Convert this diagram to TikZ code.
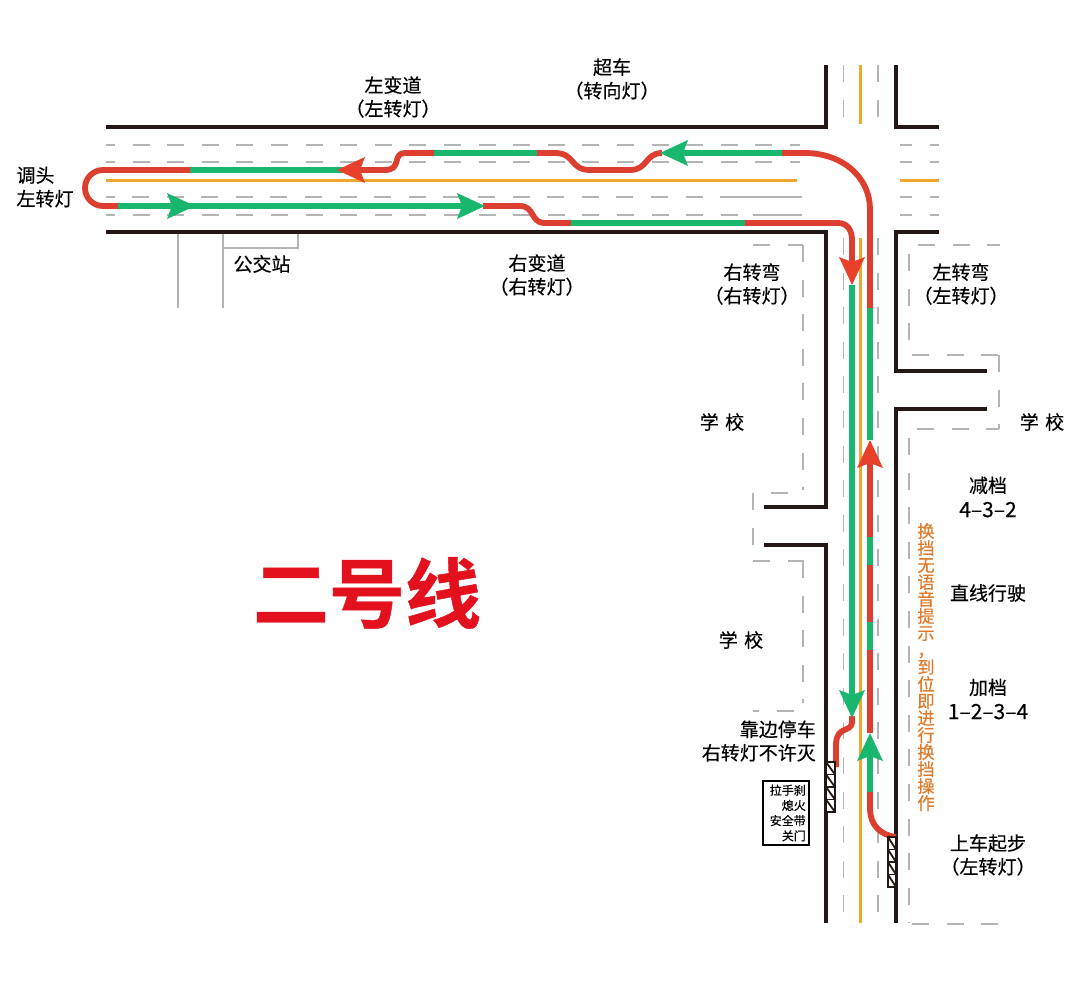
\documentclass[tikz,border=0pt]{standalone}
\usepackage{fontspec}
\setmainfont[FakeBold=0.35]{Noto Sans CJK SC}
\newfontfamily\cjkbold{Noto Sans CJK SC Bold}[FakeBold=0.6]
\newfontfamily\cjkvert[RawFeature=vert,FakeBold=0.6]{Noto Sans CJK SC}
\definecolor{rd}{HTML}{DC3F30}
\definecolor{rdh}{HTML}{E8402A}
\definecolor{grn}{HTML}{19B66E}
\definecolor{yel}{HTML}{EFA82E}
\definecolor{road}{HTML}{231815}
\definecolor{gr}{HTML}{B4B4B4}
\definecolor{org}{HTML}{DF7A2A}
\definecolor{ttl}{HTML}{E3101E}
\tikzset{
 edge/.style={draw=road,line width=3.6pt,line join=miter},
 lane/.style={draw=gr,line width=1.7pt,dash pattern=on 17pt off 17.6pt},
 plainlane/.style={draw=gr,line width=1.7pt},
 centre/.style={draw=yel,line width=3pt},
 rr/.style={draw=rd,line width=5.8pt,line join=round},
 gg/.style={draw=grn,line width=5.8pt},
 lab/.style={align=center,font=\fontsize{19}{23.5}\selectfont,text=black,inner sep=0pt},
 pics/head/.style={code={\fill[#1] (0,0)--(-28,13)--(-23,0)--(-28,-13)--cycle;}},
 stopmark/.style={draw=road,line width=1.4pt}
}
\begin{document}
\begin{tikzpicture}[x=1pt,y=-1pt]
\useasboundingbox (0,0) rectangle (1080,1007);
% lanes
\foreach \yy in {145,162,215}{\draw[lane,dash phase=8] (106,\yy)--(800,\yy);}
\draw[lane,dash phase=8] (106,197)--(116,197);
\draw[lane] (132,197)--(735,197);
\draw[plainlane] (735,197)--(802,197);
\draw[plainlane] (753,215)--(802,215);
\foreach \yy in {145,162,197,215}{
 \draw[plainlane] (900,\yy)--(912,\yy);
 \draw[plainlane] (930,\yy)--(939,\yy);}
\foreach \xx in {843.5,878}{
 \draw[lane] (\xx,65)--(\xx,118);
 \draw[lane] (\xx,238)--(\xx,923);}
% yellow
\draw[centre] (106,180)--(797,180);
\draw[centre] (900,180)--(939,180);
\draw[centre] (860,65)--(860,124);
\draw[centre] (860,238)--(860,923);
% kerbs
\draw[edge] (106,127)--(826,127)--(826,65);
\draw[edge] (896,65)--(896,127)--(939,127);
\draw[edge] (106,232)--(826,232)--(826,507)--(764,507);
\draw[edge] (764,545)--(826,545)--(826,923);
\draw[edge] (939,232)--(896,232)--(896,371)--(987,371);
\draw[edge] (987,409)--(896,409)--(896,923);
% bus stop
\draw[plainlane,line width=1.3pt] (178,234)--(178,308);
\draw[plainlane,line width=1.3pt] (223,234)--(223,308);
\draw[plainlane,line width=1.3pt] (223,248)--(298,248)--(298,234);
% verge dashes
\draw[lane] (753,245)--(803,245);
\draw[lane] (803,245)--(803,490);
\draw[lane] (788,493)--(771,493);
\draw[lane] (753,493)--(753,546);
\draw[lane] (753,561)--(804,561);
\draw[lane] (803,561)--(803,703);
\draw[lane] (794,711)--(753,711);
\draw[lane] (918,245)--(1000,245);
\draw[lane] (909,254)--(909,352);
\draw[lane] (912,355)--(999,355);
\draw[lane] (999,355)--(999,429);
\draw[lane] (917,429)--(999,429);
\draw[lane] (909,438)--(909,923);
\draw[lane] (912,924)--(999,924);
% route
\draw[rr] (896,837) .. controls (880,835) and (870,825) .. (870,808) -- (870,792);
\draw[gg] (870,792)--(870,745);
\draw[rr] (870,733)--(870,650);
\draw[gg] (870,650)--(870,622);
\draw[rr] (870,622)--(870,565);
\draw[gg] (870,565)--(870,537);
\draw[rr] (870,537)--(870,460);
\draw[gg] (870,440)--(870,308);
\draw[rr] (870,308)--(870,210) .. controls (870,175) and (840,153) .. (805,153) -- (782,153);
\draw[gg] (782,153)--(670,153);
\draw[rr] (662,153) .. controls (645,153) and (648,170) .. (630,170) -- (590,170) .. controls (570,170) and (575,153) .. (555,153) -- (537,153);
\draw[gg] (537,153)--(434,153);
\draw[rr] (434,153)--(405,153) .. controls (392,153) and (402,170) .. (385,170) -- (360,170);
\draw[gg] (345,170)--(190,170);
\draw[rr] (190,170)--(103,170) .. controls (93,170) and (85,178) .. (85,188) .. controls (85,198) and (93,206) .. (103,206) -- (118,206);
\draw[gg] (118,206)--(475,206);
\draw[rr] (483,206)--(520,206) .. controls (535,206) and (530,223) .. (545,223) -- (571,223);
\draw[gg] (571,223)--(745,223);
\draw[rr] (745,223)--(838,223) .. controls (848,223) and (852,231) .. (852,240) -- (852,265);
\draw[gg] (852,285)--(852,700);
\draw[rr] (852,716) -- (852,722) .. controls (852,733) and (836,725) .. (836,745) -- (836,767);
% heads
\pic[rotate=180] at (660,153) {head=grn};
\pic[rotate=180] at (337,170) {head=rdh};
\pic at (195,206) {head=grn};
\pic at (485,206) {head=grn};
\pic[rotate=-90] at (852,285) {head=rdh};
\pic[rotate=-90] at (852,718) {head=grn};
\pic[rotate=90] at (870,440) {head=rdh};
\pic[rotate=90] at (870,733) {head=grn};
% labels
\node[lab] (a1) at (393,97) {左变道\\（左转灯）};
\node[lab] (a2) at (612,79) {超车\\（转向灯）};
\node[lab,align=left] (a3) at (45,187) {调头\\左转灯};
\node[lab] (a4) at (262,264) {公交站};
\node[lab] (a5) at (537,275) {右变道\\（右转灯）};
\node[lab] (a6) at (752,284) {右转弯\\（右转灯）};
\node[lab] (a7) at (961,284) {左转弯\\（左转灯）};
\node[lab] (a8) at (722,422) {学\,\,校};
\node[lab] (a9) at (1042,422) {学\,\,校};
\node[lab] (a10) at (741,640) {学\,\,校};
\node[lab] (a11) at (988,497) {减档\\[1pt]{\fontsize{21}{23.5}\selectfont 4–3–2}};
\node[lab] (a12) at (988,593) {直线行驶};
\node[lab] (a13) at (988,699) {加档\\[1pt]{\fontsize{21}{23.5}\selectfont 1–2–3–4}};
\node[lab] (a14) at (988,855) {上车起步\\（左转灯）};
\node[lab,align=right,anchor=east] (a15) at (816,741) {靠边停车\\右转灯不许灭};
\node[draw=black,line width=1.2pt,minimum width=46pt,minimum height=64pt,inner sep=0pt] (b) at (786,813) {};
\node[align=right,anchor=east,inner sep=0pt,font=\fontsize{12}{15.2}\selectfont] (bt) at (806,813) {拉手刹\\熄火\\安全带\\关门};
\node[text=org,inner sep=0pt,align=center,font=\fontsize{17.3}{17}\selectfont\cjkvert] (v) at (926,667) {换\\挡\\无\\语\\音\\提\\示\\，\\到\\位\\即\\进\\行\\换\\挡\\操\\作};
\node[text=ttl,inner sep=0pt,font=\fontsize{76}{76}\selectfont\cjkbold] (t) at (367,593) {二号线};
% stop marks
\foreach \xa/\xb/\ya in {826/835/762,888/896/837}{
 \fill[white] (\xa,\ya) rectangle (\xb,\ya+50);
 \draw[stopmark] (\xa,\ya) rectangle (\xb,\ya+50);
 \foreach \k in {0,12.5,25,37.5}{
  \draw[stopmark] (\xa,\ya+\k)--(\xb,\ya+\k);
  \draw[stopmark,line width=1.8pt] (\xa,\ya+\k)--(\xb,\ya+\k+12.5);
 }
}
\end{tikzpicture}
\end{document}
